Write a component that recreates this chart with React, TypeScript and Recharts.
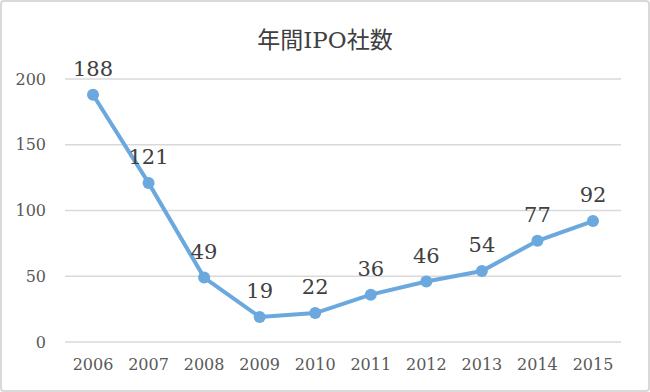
import { LineChart, Line, XAxis, YAxis, CartesianGrid, LabelList } from 'recharts';

const years = ['2006', '2007', '2008', '2009', '2010', '2011', '2012', '2013', '2014', '2015'];
const ipoCounts = [188, 121, 49, 19, 22, 36, 46, 54, 77, 92];
const yTicks = [0, 50, 100, 150, 200];
const title = '年間IPO社数';

const chartData = years.map((year, i) => ({ year, count: ipoCounts[i] }));

const serif = "'DejaVu Serif', 'Liberation Serif', 'Noto Sans CJK JP', serif";

export default function App() {
  return (
    <div
      style={{
        position: 'fixed',
        left: 0,
        top: 0,
        width: 650,
        height: 392,
        boxSizing: 'border-box',
        border: '2px solid #d9d9d9',
        borderRadius: 4,
        background: '#fff',
        fontFamily: serif,
      }}
    >
      <div
        style={{
          position: 'absolute',
          top: 19,
          left: 0,
          width: 646,
          textAlign: 'center',
          fontSize: 23,
          color: '#404040',
          fontFamily: serif,
        }}
      >
        {title}
      </div>
      <div style={{ position: 'absolute', left: -2, top: -2 }}>
        <LineChart width={650} height={392} data={chartData} margin={{ top: 79, right: 29, bottom: 20, left: 0 }}>
          <CartesianGrid vertical={false} stroke="#d9d9d9" strokeWidth={1.5} />
          <XAxis
            dataKey="year"
            height={30}
            padding={{ left: 28, right: 28 }}
            axisLine={false}
            tickLine={false}
            tickSize={0}
            tickMargin={17}
            tick={{ fill: '#595959', fontSize: 16, fontFamily: serif }}
            interval={0}
          />
          <YAxis
            width={65}
            domain={[0, 200]}
            ticks={yTicks}
            axisLine={false}
            tickLine={false}
            tickSize={0}
            tickMargin={19}
            tick={{ fill: '#595959', fontSize: 16, fontFamily: serif }}
          />
          <Line
            dataKey="count"
            stroke="#6aa8de"
            strokeWidth={4}
            dot={{ r: 6, fill: '#6aa8de', stroke: '#6aa8de', strokeWidth: 0 }}
            isAnimationActive={false}
          >
            <LabelList dataKey="count" position="top" offset={19} fill="#404040" fontSize={21} fontFamily={serif} />
          </Line>
        </LineChart>
      </div>
    </div>
  );
}
